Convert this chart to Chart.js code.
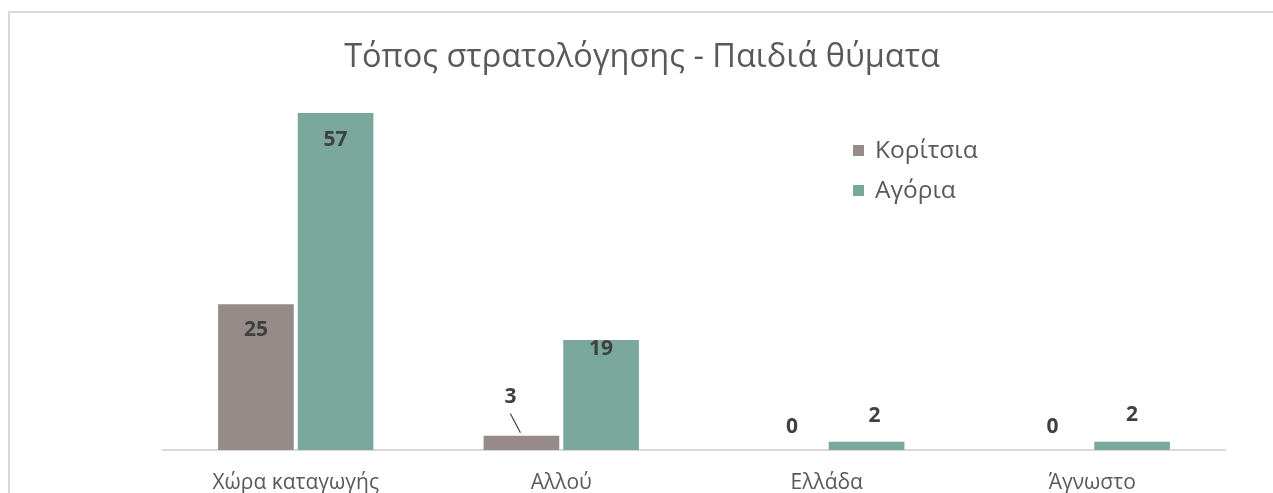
<!DOCTYPE html>
<html>
<head>
<meta charset="utf-8">
<script src="https://cdn.jsdelivr.net/npm/chart.js@4.4.1/dist/chart.umd.min.js"></script>
<style>
  html, body { margin: 0; padding: 0; background: #fff; overflow: hidden; }
  #frame {
    position: absolute; left: 8px; top: 11px; width: 1400px; height: 600px;
    border: 2px solid #d9d9d9; box-sizing: border-box;
  }
  #wrap { position: absolute; left: 0; top: 0; width: 1273px; height: 493px; }
</style>
</head>
<body>
<div id="frame"></div>
<div id="wrap"><canvas id="chart" width="1273" height="493"></canvas></div>
<script>
const categories = ["Χώρα καταγωγής", "Αλλού", "Ελλάδα", "Άγνωστο"];
const girls = [25, 3, 0, 0];
const boys = [57, 19, 2, 2];
const seriesNames = ["Κορίτσια", "Αγόρια"];
const chartTitle = "Τόπος στρατολόγησης - Παιδιά θύματα";

const FONT = "'Open Sans', 'DejaVu Sans', sans-serif";
const girlColor = "#978b89";
const boyColor = "#7aa89c";

// label placement, relative to the bar top (dx, dy), like the hand-moved labels in Excel
const labelNudge = [
  [[0, 26], [-11, -39, true], [5, -23], [0, -23]],
  [[0, 27], [0, 9], [8, -26], [0, -27]]
];

const valueLabels = {
  id: "valueLabels",
  afterDatasetsDraw(chart) {
    const ctx = chart.ctx;
    ctx.save();
    ctx.font = "bold 21px " + FONT;
    ctx.fillStyle = "#404040";
    ctx.textAlign = "center";
    ctx.textBaseline = "middle";
    chart.data.datasets.forEach((ds, i) => {
      const meta = chart.getDatasetMeta(i);
      meta.data.forEach((bar, j) => {
        const n = labelNudge[i][j];
        const top = Math.min(bar.y, chart.chartArea.bottom);
        const x = bar.x + n[0];
        const y = top + n[1];
        ctx.fillText(String(ds.data[j]), x, y);
        if (n[2]) {
          ctx.strokeStyle = "#404040";
          ctx.lineWidth = 1.2;
          ctx.beginPath();
          ctx.moveTo(x, y + 17);
          ctx.lineTo(x + 10, top - 3);
          ctx.stroke();
        }
      });
    });
    ctx.restore();
  }
};

// title centred on the whole frame, legend floating inside the plot
const overlay = {
  id: "overlay",
  afterDraw(chart) {
    const ctx = chart.ctx;
    ctx.save();
    ctx.fillStyle = "#595959";
    ctx.font = "32.5px " + FONT;
    ctx.textAlign = "center";
    ctx.textBaseline = "middle";
    ctx.fillText(chartTitle, 642, 58);

    ctx.font = "24.5px " + FONT;
    ctx.textAlign = "left";
    chart.data.datasets.forEach((ds, i) => {
      const y = 151 + i * 40;
      ctx.fillStyle = ds.backgroundColor;
      ctx.fillRect(853, y - 6, 11, 11);
      ctx.fillStyle = "#595959";
      ctx.fillText(ds.label, 875, y);
    });
    ctx.restore();
  }
};

new Chart(document.getElementById("chart"), {
  type: "bar",
  data: {
    labels: categories,
    datasets: [
      { label: seriesNames[0], data: girls, backgroundColor: girlColor, clip: 0 },
      { label: seriesNames[1], data: boys, backgroundColor: boyColor, clip: 0 }
    ]
  },
  options: {
    responsive: false,
    animation: false,
    events: [],
    layout: { padding: { left: 163, right: 48, top: 95, bottom: 0 } },
    datasets: { bar: { categoryPercentage: 0.6, barPercentage: 0.95, borderWidth: 0 } },
    plugins: {
      legend: { display: false },
      tooltip: { enabled: false },
      title: { display: false }
    },
    scales: {
      x: {
        grid: { display: false, drawTicks: false },
        border: { display: true, color: "#d9d9d9", width: 2 },
        ticks: {
          color: "#595959",
          padding: 20,
          maxRotation: 0,
          font: { family: FONT, size: 21, lineHeight: 1.2 }
        },
        afterFit(scale) { scale.height = 43; }
      },
      y: { display: false, min: 0.6, max: 60 }
    }
  },
  plugins: [valueLabels, overlay]
});
</script>
</body>
</html>
